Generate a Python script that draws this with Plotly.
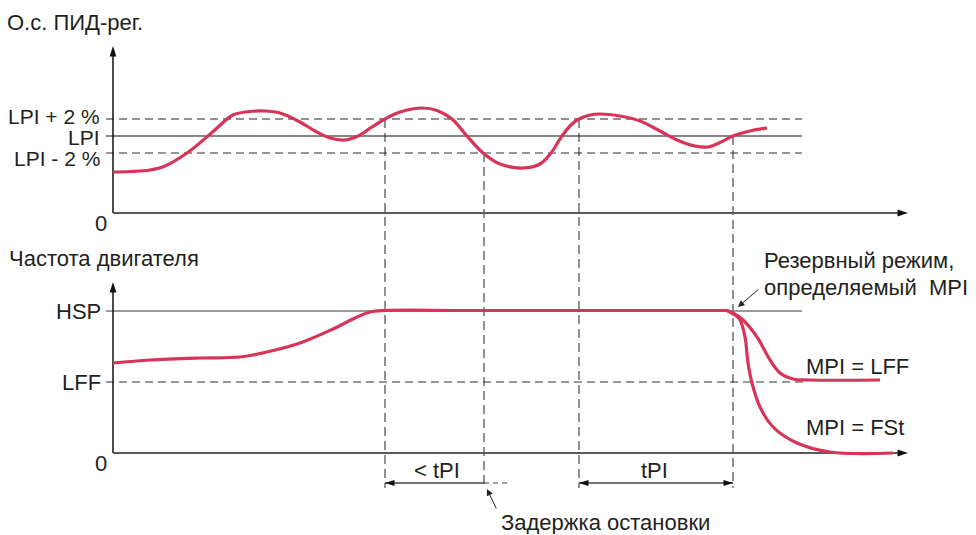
import plotly.graph_objects as go

W, H = 976, 535
# pixel anchors of the drawing (used only to set the axis ranges)
X0_PX, TOP0_PX, BOT0_PX = 113, 213, 453

# ---------------- data ----------------
# Top panel: PID feedback (О.с. ПИД-рег.)
fb_t = [0, 17, 37, 52, 74, 95, 104, 120, 137, 152, 167, 187, 202, 217, 232, 245, 259, 272,
        287, 310, 324, 339, 354, 370, 387, 410, 427, 438, 449, 459, 466, 477, 487, 507, 527,
        547, 564, 582, 595, 607, 620, 637, 654]
fb_v = [41, 41.5, 43, 47, 60, 77, 85, 98, 101.5, 102, 100, 91, 82, 75, 73, 77, 86, 94,
        101, 105, 102.5, 94, 77, 60, 49, 45, 49, 60, 77, 89, 94, 98, 99, 97, 92,
        82, 73, 67, 66, 70.5, 77, 82, 85]
LPI_PLUS, LPI, LPI_MINUS = 94, 77, 60
top_levels = [LPI_PLUS, LPI, LPI_MINUS]
top_level_labels = ["LPI + 2 %", "LPI", "LPI - 2 %"]

# Bottom panel: motor frequency (Частота двигателя)
mf_t = [0, 37, 87, 127, 154, 187, 220, 242, 257, 272, 350, 450, 550, 614]
mf_v = [90, 93, 95, 96, 101, 110, 124, 135, 141, 142.5, 142.5, 142.5, 142.5, 142.5]
lff_t = [614, 620, 630, 644, 657, 667, 680, 697, 767]
lff_v = [142.5, 140, 133, 116, 93, 80, 74, 73, 73]
fst_t = [614, 622, 627, 632, 635, 639, 647, 660, 684, 717, 780]
fst_v = [142.5, 138, 133, 116, 90, 70, 46, 26, 10, 1, 0]
HSP, LFF = 142, 71

# event times (vertical dashed markers) and the level where each one starts
ev_t = [272, 371, 466, 620]
ev_v = [LPI_PLUS, LPI_MINUS, LPI_PLUS, LPI]
EV_BOTTOM = -275           # lower end of the event lines (top-axis units)
DIM_Y = -270               # height of the interval arrows (top-axis units)

# axis extents
T_LEVEL0, T_LEVEL1 = -7, 689
T_AXIS_END = 795
TOP_Y_TIP, BOT_Y_TIP = 167, 171

RED = "rgb(216,52,88)"
TXT = "#231f20"
FONT = "Liberation Sans, Arial, sans-serif"
FS = 22

fig = go.Figure()

def line(x, y, color, width, dash=None, yaxis="y", shape="linear"):
    fig.add_trace(go.Scatter(x=x, y=y, mode="lines", yaxis=yaxis, hoverinfo="skip",
                             line=dict(color=color, width=width, dash=dash, shape=shape)))

def arrow_marker(x, y, angle, size, yaxis="y", color="#111"):
    fig.add_trace(go.Scatter(x=[x], y=[y], mode="markers", yaxis=yaxis, hoverinfo="skip",
                             marker=dict(symbol="arrow", angle=angle, size=size, color=color,
                                         line=dict(width=0))))

# ---- top panel reference lines ----
line([T_LEVEL0, T_LEVEL1], [LPI_PLUS] * 2, "#6d6d6d", 1.4, "8px,5px")
line([T_LEVEL0, T_LEVEL1], [LPI] * 2, "#111", 1.1)
line([T_LEVEL0, T_LEVEL1], [LPI_MINUS] * 2, "#333", 1.2, "8px,5px")

# event vertical dashed lines
for t, v in zip(ev_t, ev_v):
    line([t, t], [v, EV_BOTTOM], "#222", 1, "9px,5px")

# ---- bottom panel reference lines ----
line([T_LEVEL0, T_LEVEL1], [HSP] * 2, "#7a7a7a", 1.4, yaxis="y2")
line([T_LEVEL0, T_LEVEL1 + 1], [LFF] * 2, "#333", 1.2, "8px,5px", yaxis="y2")

# ---- axes ----
line([0, 0], [0, TOP_Y_TIP - 8], "#111", 1.5)
line([0, T_AXIS_END - 9], [0, 0], "#5a5a5a", 2)
arrow_marker(0, TOP_Y_TIP, 0, 11)
arrow_marker(T_AXIS_END, 0, 90, 11)

line([0, 0], [0, BOT_Y_TIP - 8], "#111", 1.5, yaxis="y2")
line([0, T_AXIS_END - 9], [0, 0], "#5a5a5a", 2, yaxis="y2")
arrow_marker(0, BOT_Y_TIP, 0, 11, yaxis="y2")
arrow_marker(T_AXIS_END, 0, 90, 11, yaxis="y2")

# ---- interval arrows ----
line([ev_t[0], ev_t[1]], [DIM_Y] * 2, "#444", 1.3)
line([ev_t[1], ev_t[1] + 24], [DIM_Y] * 2, "#444", 1.1, "5px,4px")
arrow_marker(ev_t[0], DIM_Y, -90, 10)
line([ev_t[2], ev_t[3]], [DIM_Y] * 2, "#444", 1.3)
arrow_marker(ev_t[2], DIM_Y, -90, 10)
arrow_marker(ev_t[3], DIM_Y, 90, 10)

# ---- curves ----
line(fb_t, fb_v, RED, 3.2, shape="spline")
line(mf_t, mf_v, RED, 3.2, yaxis="y2", shape="spline")
line(lff_t, lff_v, RED, 3.2, yaxis="y2", shape="spline")
line(fst_t, fst_v, RED, 3.2, yaxis="y2", shape="spline")

# ---- text ----
def px(x):
    return x / W

def py(y):
    return 1 - y / H

ann = []

def text(s, x, y, xanchor="left", yref="paper", xref="paper", yshift=0, size=FS,
         height=None):
    d = dict(text=s, x=x, y=y, xref=xref, yref=yref, xanchor=xanchor,
             yanchor="middle", showarrow=False, yshift=yshift, borderpad=0,
             font=dict(family=FONT, size=size, color=TXT))
    if height:
        d["height"] = height
    ann.append(d)

text("О.с. ПИД-рег.", px(6), py(22))
for lab, lev, sh in zip(top_level_labels, top_levels, [3, -1, -5]):
    text(lab, px(101), lev, xanchor="right", yref="y", yshift=sh, size=21, height=16)
text("0", px(108), py(223), xanchor="right")

text("Частота двигателя", px(8), py(258))
text("HSP", px(102), HSP, xanchor="right", yref="y2")
text("LFF", px(102), LFF, xanchor="right", yref="y2")
text("0", px(108), py(463), xanchor="right")

text("< tPI", (ev_t[0] + ev_t[1]) / 2 + 2, DIM_Y + 13, xanchor="center", xref="x", yref="y")
text("tPI", (ev_t[2] + ev_t[3]) / 2 - 2, DIM_Y + 13, xanchor="center", xref="x", yref="y")
text("Задержка остановки", px(605), py(522), xanchor="center", height=24)
text("Резервный режим,", px(763), py(260))
text("определяемый  MPI", px(763), py(287))
text("MPI = LFF", px(805), py(366))
text("MPI = FSt", px(805), py(427))

# pointer arrows
ann.append(dict(x=px(487), y=py(489), xref="paper", yref="paper", ax=10, ay=21,
                text="", showarrow=True, arrowhead=2, arrowsize=1.3, arrowwidth=1,
                arrowcolor="#222"))
ann.append(dict(x=px(738), y=py(307), xref="paper", yref="paper", ax=22, ay=-19,
                text="", showarrow=True, arrowhead=2, arrowsize=1.3, arrowwidth=1,
                arrowcolor="#222"))

fig.update_layout(
    width=W, height=H, margin=dict(l=0, r=0, t=0, b=0),
    paper_bgcolor="white", plot_bgcolor="white", showlegend=False,
    xaxis=dict(range=[-X0_PX, W - X0_PX], visible=False, fixedrange=True),
    yaxis=dict(range=[TOP0_PX - H, TOP0_PX], visible=False, fixedrange=True),
    yaxis2=dict(range=[BOT0_PX - H, BOT0_PX], visible=False, overlaying="y",
                fixedrange=True),
    annotations=ann,
)

fig.write_html("out.html", config={"displayModeBar": False},
               post_script="document.body.style.margin='0';"
                           "document.body.style.overflow='hidden';")
